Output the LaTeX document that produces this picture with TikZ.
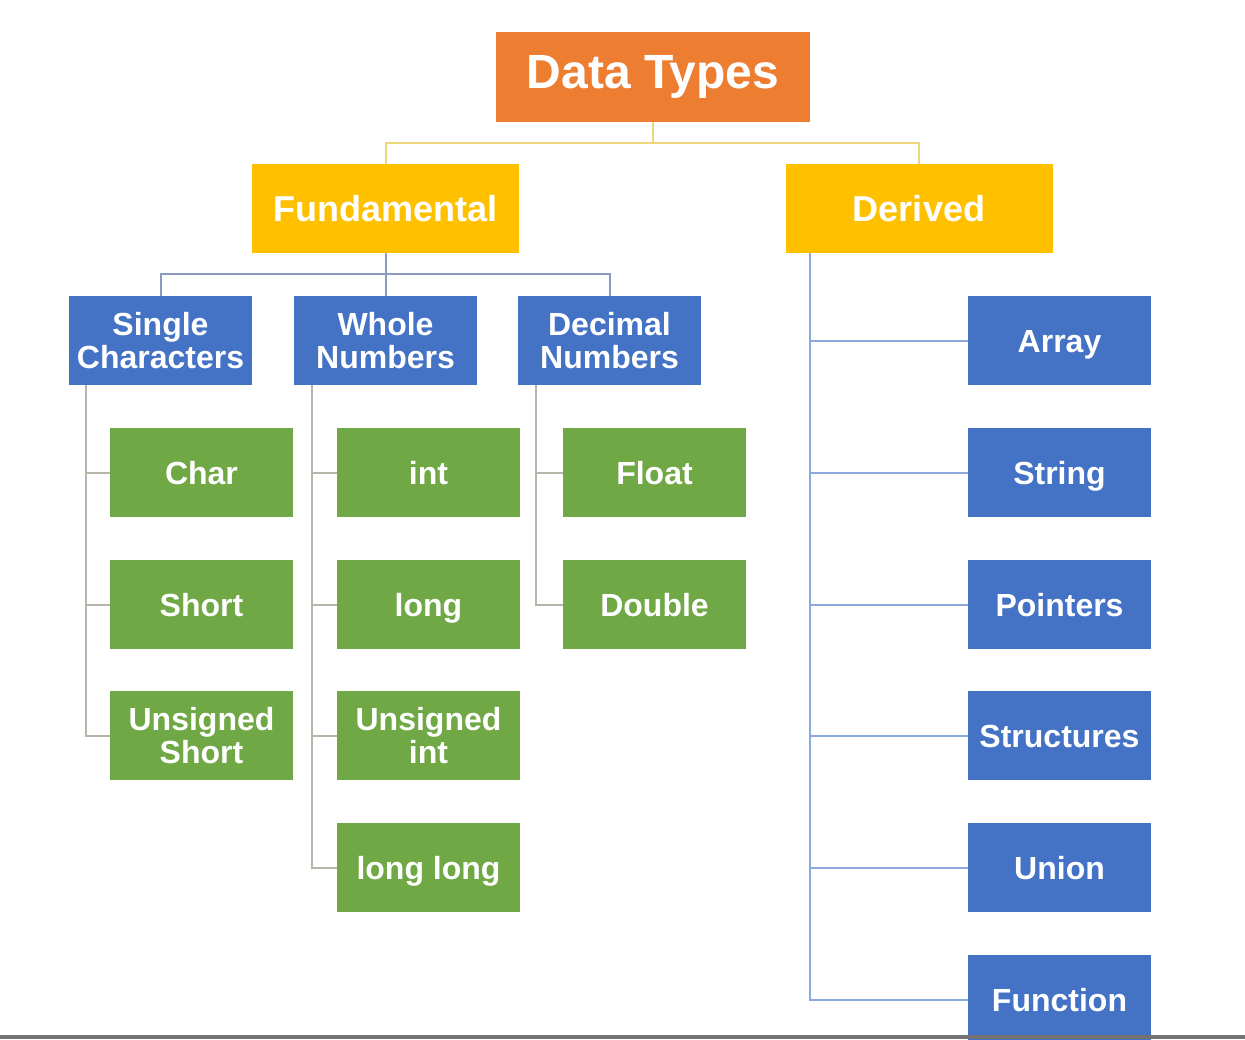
\documentclass[tikz,border=0pt]{standalone}
\usepackage{fontspec}
\setmainfont{Liberation Sans}
\definecolor{cOrange}{HTML}{ED7D31}
\definecolor{cAmber}{HTML}{FFC000}
\definecolor{cBlue}{HTML}{4472C4}
\definecolor{cGreen}{HTML}{6FA845}
\definecolor{lnTop}{HTML}{EED57E}
\definecolor{lnFund}{HTML}{8A9CC0}
\definecolor{lnDer}{HTML}{8EA9DB}
\definecolor{lnGreen}{HTML}{B5B5A8}
\begin{document}
\begin{tikzpicture}[x=0.5pt,y=-0.5pt,
  box/.style={rectangle, inner sep=0pt, text=white, align=center, font=\bfseries\fontsize{16}{16.5}\selectfont, minimum width=91.5pt, minimum height=44.5pt},
  oneline/.style={text height=11.6pt, text depth=0pt},
  rootbox/.style={box, fill=cOrange, minimum width=157pt, minimum height=45pt, font=\bfseries\fontsize{24}{26}\selectfont},
  catbox/.style={box, fill=cAmber, minimum width=133.5pt, font=\bfseries\fontsize{18}{20}\selectfont},
  bluebox/.style={box, fill=cBlue},
  greenbox/.style={box, fill=cGreen},
  conn/.style={line width=1pt}
]
\useasboundingbox (0,0) rectangle (1245,1039);
\clip (0,0) rectangle (1245,1039);
\fill[white] (0,0) rectangle (1245,1039);

% nodes
\node[rootbox] (dt) at (653,77) {Data Types};
\node[catbox] (fund) at (385.5,208.5) {Fundamental};
\node[catbox] (der) at (919,208.5) {Derived};

\node[bluebox] (sc) at (160.5,340.5) {Single\\Characters};
\node[bluebox] (wn) at (385.5,340.5) {Whole\\Numbers};
\node[bluebox] (dn) at (609.5,340.5) {Decimal\\Numbers};

\node[greenbox, oneline] (char) at (201.5,472.5) {Char};
\node[greenbox, oneline] (short) at (201.5,604.5) {Short};
\node[greenbox] (ushort) at (201.5,735.5) {Unsigned\\Short};

\node[greenbox, oneline] (int) at (428.5,472.5) {int};
\node[greenbox, oneline] (long) at (428.5,604.5) {long};
\node[greenbox] (uint) at (428.5,735.5) {Unsigned\\int};
\node[greenbox, oneline] (llong) at (428.5,867.5) {long long};

\node[greenbox, oneline] (float) at (654.5,472.5) {Float};
\node[greenbox, oneline] (double) at (654.5,604.5) {Double};

\node[bluebox, oneline] (arr) at (1059.5,340.5) {Array};
\node[bluebox, oneline] (str) at (1059.5,472.5) {String};
\node[bluebox, oneline] (ptr) at (1059.5,604.5) {Pointers};
\node[bluebox, oneline] (stc) at (1059.5,735.5) {Structures};
\node[bluebox, oneline] (uni) at (1059.5,867.5) {Union};
\node[bluebox, oneline] (fun) at (1059.5,999.5) {Function};

% connectors
\draw[conn, lnTop] (dt.south) -- ++(0,21) coordinate (tj);
\draw[conn, lnTop] (tj) -| (fund.north);
\draw[conn, lnTop] (tj) -| (der.north);

\draw[conn, lnFund] (fund.south) -- ++(0,21) coordinate (fj);
\draw[conn, lnFund] (fj) -| (sc.north);
\draw[conn, lnFund] (fj) -- (wn.north);
\draw[conn, lnFund] (fj) -| (dn.north);

\coordinate (scv) at ([xshift=8.5pt]sc.south west);
\draw[conn, lnGreen] (scv) |- (char.west);
\draw[conn, lnGreen] (scv) |- (short.west);
\draw[conn, lnGreen] (scv) |- (ushort.west);

\coordinate (wnv) at ([xshift=9pt]wn.south west);
\draw[conn, lnGreen] (wnv) |- (int.west);
\draw[conn, lnGreen] (wnv) |- (long.west);
\draw[conn, lnGreen] (wnv) |- (uint.west);
\draw[conn, lnGreen] (wnv) |- (llong.west);

\coordinate (dnv) at ([xshift=9pt]dn.south west);
\draw[conn, lnGreen] (dnv) |- (float.west);
\draw[conn, lnGreen] (dnv) |- (double.west);

\coordinate (dv) at ([xshift=12.5pt]der.south west);
\draw[conn, lnDer] (dv) |- (arr.west);
\draw[conn, lnDer] (dv) |- (str.west);
\draw[conn, lnDer] (dv) |- (ptr.west);
\draw[conn, lnDer] (dv) |- (stc.west);
\draw[conn, lnDer] (dv) |- (uni.west);
\draw[conn, lnDer] (dv) |- (fun.west);

% bottom edge
\fill[black!55] (0,1035) rectangle (1245,1039);
\end{tikzpicture}
\end{document}
